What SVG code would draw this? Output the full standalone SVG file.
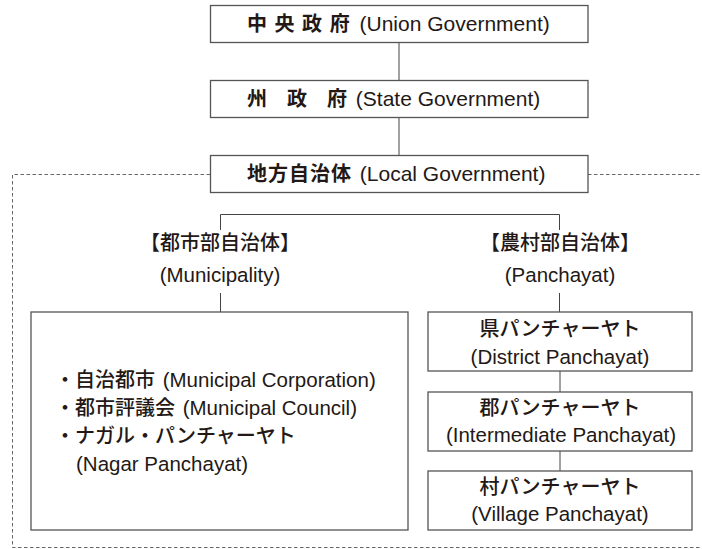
<svg xmlns="http://www.w3.org/2000/svg" width="702" height="549" viewBox="0 0 702 549">
<style>
.bx{fill:#fff;stroke:#555;stroke-width:1.3}
.ln{fill:none;stroke:#444;stroke-width:1}
.dash{fill:none;stroke:#666;stroke-width:1;stroke-dasharray:3.5,2.5}
text{font-family:"Liberation Sans","Noto Sans CJK JP",sans-serif;font-size:20.5px;fill:#231815}
.c{text-anchor:middle}
.b{font-weight:bold;font-size:20px}
.m{font-weight:500;font-size:20px}
.h{font-size:21px}
</style>
<rect width="702" height="549" fill="#fff"/>
<g id="frame">
<path class="dash" d="M210,174.5H12.5V547.5H702M588,174.5H702"/>
</g>
<g id="connectors">
<path class="ln" d="M399,42.5V80.5M399,117.5V155.5"/>
<path class="ln" d="M220.5,230V214.5H559.5V230"/>
<path class="ln" d="M220.5,293V312M559.5,293V312"/>
<path class="ln" d="M560,371V392M560,451V471"/>
</g>
<g id="union">
<rect class="bx" x="210.5" y="5.5" width="377.5" height="37"/>
<text x="247" y="31"><tspan class="b" letter-spacing="1">中 央 政 府</tspan><tspan class="h" dx="3"> (Union Government)</tspan></text>
</g>
<g id="state">
<rect class="bx" x="210.5" y="80.5" width="377.5" height="37"/>
<text x="247" y="106"><tspan class="b">州　政　府</tspan><tspan class="h" dx="3"> (State Government)</tspan></text>
</g>
<g id="local">
<rect class="bx" x="210.5" y="155.5" width="377.5" height="37"/>
<text x="247" y="181"><tspan class="b" letter-spacing="1">地方自治体</tspan><tspan class="h" dx="2"> (Local Government)</tspan></text>
</g>
<g id="municipality-label">
<text class="c m" x="220" y="250">【都市部自治体】</text>
<text class="c" x="220" y="282">(Municipality)</text>
</g>
<g id="panchayat-label">
<text class="c m" x="560" y="250">【農村部自治体】</text>
<text class="c" x="560" y="282">(Panchayat)</text>
</g>
<g id="municipality">
<rect class="bx" x="31" y="312" width="377" height="218"/>
<text x="55" y="387"><tspan class="m">・自治都市</tspan><tspan dx="2"> (Municipal Corporation)</tspan></text>
<text x="55" y="415"><tspan class="m">・都市評議会</tspan><tspan dx="2"> (Municipal Council)</tspan></text>
<text x="55" y="443" class="m">・ナガル・パンチャーヤト</text>
<text x="76" y="471">(Nagar Panchayat)</text>
</g>
<g id="district">
<rect class="bx" x="428" y="312" width="264" height="59"/>
<text class="c m" x="560" y="336">県パンチャーヤト</text>
<text class="c" x="560" y="364">(District Panchayat)</text>
</g>
<g id="intermediate">
<rect class="bx" x="428" y="392" width="264" height="59"/>
<text class="c m" x="560" y="415">郡パンチャーヤト</text>
<text class="c" x="561" y="442">(Intermediate Panchayat)</text>
</g>
<g id="village">
<rect class="bx" x="428" y="471" width="264" height="59"/>
<text class="c m" x="560" y="494">村パンチャーヤト</text>
<text class="c" x="560" y="521">(Village Panchayat)</text>
</g>
</svg>
